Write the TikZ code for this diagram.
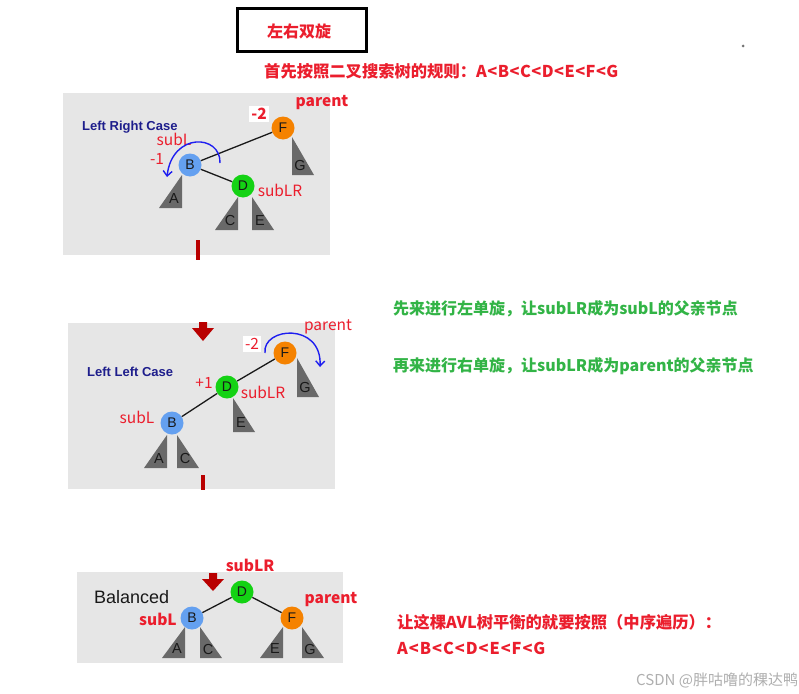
\documentclass[tikz,border=0pt]{standalone}
\usepackage{fontspec}
\setmainfont{Liberation Sans}
\newfontfamily\cjk{Noto Sans CJK SC}
\usetikzlibrary{arrows.meta}
\definecolor{cred}{RGB}{235,30,45}
\definecolor{cgreen}{RGB}{50,180,70}
\definecolor{panelgray}{RGB}{230,230,230}
\definecolor{trig}{RGB}{105,105,105}
\definecolor{corange}{RGB}{245,130,0}
\definecolor{cblue}{RGB}{100,160,240}
\definecolor{cgreenn}{RGB}{20,210,20}
\definecolor{navy}{RGB}{30,30,140}
\definecolor{darkred}{RGB}{185,0,0}
\definecolor{arcblue}{RGB}{30,30,240}
\definecolor{wm}{RGB}{175,175,175}
\newcommand\subtrR[5]{%
  \fill[trig] (#2,#3) -- (#2,#4) -- ({#2-23},#4) -- cycle;
  \node[tlab] (#1) at ({#2-8},{#4-9}) {#5};}
\newcommand\subtrL[5]{%
  \fill[trig] (#2,#3) -- (#2,#4) -- ({#2+22},#4) -- cycle;
  \node[tlab] (#1) at ({#2+8},{#4-9}) {#5};}
\begin{document}
\begin{tikzpicture}[x=1pt,y=-1pt,
  cn/.style={font=\cjk\fontsize{16}{19}\selectfont\bfseries, inner sep=0pt, anchor=west},
  cnr/.style={font=\cjk\fontsize{16.3}{19}\selectfont\bfseries, inner sep=0pt, anchor=west, text=cred},
  lab/.style={font=\cjk\fontsize{15.5}{18}\selectfont, text=cred, inner sep=0pt},
  labb/.style={font=\cjk\fontsize{15.5}{18}\selectfont\bfseries, text=cred, inner sep=0pt},
  tn/.style={circle, minimum size=23pt, inner sep=0pt, font=\fontsize{14}{16}\selectfont, text=black!90},
  tlab/.style={font=\fontsize{14.5}{16}\selectfont, text=black!90, inner sep=0pt},
  edge/.style={line width=1.3pt, black!90},
  casetxt/.style={font=\fontsize{13}{15}\selectfont\bfseries, text=navy, inner sep=0pt, anchor=west},
  rot/.style={arcblue, line width=1.4pt, -{Straight Barb[length=5pt,width=9pt]}},
  panel/.style={fill=panelgray}
]
\useasboundingbox (0,0) rectangle (799,693);
\fill[white] (0,0) rectangle (799,693);

% title
\node[draw=black, line width=3pt, minimum width=129pt, minimum height=43pt, inner sep=0pt] (title) at (301.5,30) {};
\node[cn, anchor=center, text=cred] (titletxt) at (299,31) {左右双旋};
\node[cnr] (rule) at (264,71) {首先按照二叉搜索树的规则：{\addfontfeature{LetterSpace=3}A<B<C<D<E<F<G}};
\fill[black!55] (743,46) circle (1.5);

% ---------- panel 1 ----------
\fill[panel] (63,93) rectangle (330,255);
\node[casetxt] (case1) at (82,127) {Left Right Case};
\subtrL{p1G}{292}{137}{175}{G}
\subtrR{p1A}{182}{175}{208}{A}
\subtrR{p1C}{238}{197}{230}{C}
\subtrL{p1E}{252}{197}{230}{E}
\node[tn, fill=corange] (p1F) at (283,128) {F};
\node[tn, fill=cblue] (p1B) at (190,165) {B};
\node[tn, fill=cgreenn] (p1D) at (243,186) {D};
\draw[edge] (p1F) -- (p1B);
\draw[edge] (p1B) -- (p1D);
\node[labb, fill=white, inner sep=2pt] (p1m2) at (259,114) {-2};
\node[labb] (p1parent) at (322,103) {parent};
\node[lab] (p1subL) at (174,139) {subL};
\node[lab] (p1m1) at (157,159) {-1};
\node[lab] (p1subLR) at (280,190) {subLR};
\draw[rot] (220,163) .. controls (221,134) and (172,132) .. (167,177);
\fill[darkred] (196,240) rectangle (200,260);

% ---------- panel 2 ----------
\fill[panel] (68,323) rectangle (335,489);
\fill[darkred] (199,322) -- (207,322) -- (207,328) -- (214,328) -- (203,341) -- (192,328) -- (199,328) -- cycle;
\node[casetxt] (case2) at (87,372) {Left Left Case};
\subtrL{p2G}{297}{358}{397}{G}
\subtrL{p2E}{233}{398}{432}{E}
\subtrR{p2A}{167}{435}{468}{A}
\subtrL{p2C}{177}{435}{468}{C}
\node[tn, fill=corange] (p2F) at (285,353) {F};
\node[tn, fill=cgreenn] (p2D) at (227,387) {D};
\node[tn, fill=cblue] (p2B) at (172,423) {B};
\draw[edge] (p2F) -- (p2D);
\draw[edge] (p2D) -- (p2B);
\node[lab, fill=white, inner sep=2pt] (p2m2) at (252,344) {-2};
\node[lab] (p2parent) at (328,327) {parent};
\node[lab] (p2p1) at (204,383) {+1};
\node[lab] (p2subLR) at (263,392) {subLR};
\node[lab] (p2subL) at (137,417) {subL};
\draw[rot] (265,353) .. controls (262,327) and (322,322) .. (320,367);
\fill[darkred] (201,475) rectangle (205,490);

% ---------- panel 3 ----------
\fill[panel] (77,572) rectangle (343,663);
\fill[darkred] (209,573) -- (217,573) -- (217,579) -- (224,579) -- (213,591) -- (202,579) -- (209,579) -- cycle;
\node[font=\fontsize{18}{20}\selectfont, text=black!90, inner sep=0pt, anchor=west] (bal) at (94,597) {Balanced};
\subtrR{p3A}{185}{627}{658}{A}
\subtrL{p3C}{200}{627}{658}{C}
\subtrR{p3E}{283}{627}{658}{E}
\subtrL{p3G}{302}{627}{658}{G}
\node[tn, fill=cgreenn] (p3D) at (242,592) {D};
\node[tn, fill=cblue] (p3B) at (192,618) {B};
\node[tn, fill=corange] (p3F) at (292,618) {F};
\draw[edge] (p3D) -- (p3B);
\draw[edge] (p3D) -- (p3F);
\node[labb] (p3subLR) at (250,565) {subLR};
\node[labb] (p3parent) at (331,600) {parent};
\node[labb] (p3subL) at (158,619) {subL};

% ---------- right texts ----------
\node[cn, text=cgreen] (g1) at (393,309) {先来进行左单旋，让subLR成为subL的父亲节点};
\node[cn, text=cgreen] (g2) at (393,366) {再来进行右单旋，让subLR成为parent的父亲节点};
\node[cnr] (r1) at (397,622) {让这棵AVL树平衡的就要按照（中序遍历）：};
\node[cnr] (r2) at (397,648) {\addfontfeature{LetterSpace=6}A<B<C<D<E<F<G};
\node[font=\cjk\fontsize{15}{18}\selectfont, text=wm, inner sep=0pt, anchor=west] (wmk) at (636,680) {CSDN @胖咕噜的稞达鸭};
\end{tikzpicture}
\end{document}
